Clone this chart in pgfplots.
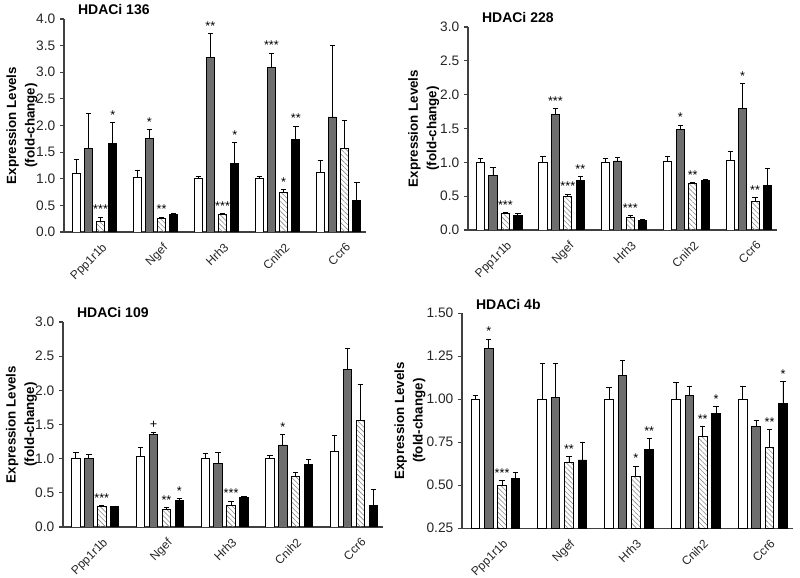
\documentclass[border=0pt]{standalone}
\usepackage{fontspec}
\setmainfont{Liberation Sans}
\usepackage{pgfplots}
\pgfplotsset{compat=1.18}
\usepackage{pgfplotstable}
\usetikzlibrary{patterns.meta}
\definecolor{gbar}{HTML}{6E6E6E}
\newcommand{\fs}{\fontsize{9.5pt}{13.5pt}\selectfont}
\newcommand{\fy}{\fontsize{10.3pt}{12pt}\selectfont}
\newcommand{\fx}{\fontsize{9pt}{11pt}\selectfont}
\newcommand{\ft}{\fontsize{10.5pt}{13pt}\selectfont}
\newcommand{\fl}{\fontsize{10pt}{13.9pt}\selectfont}

% columns: x, white, err, gray, err, hatched, err, black, err, labels
\pgfplotstableread{
x w ew g eg h eh b eb lg lh lb
0 1.09 0.27 1.56 0.67 0.20 0.08 1.66 0.39 {} *** *
1 1.03 0.13 1.75 0.17 0.26 0.02 0.32 0.02 * ** {}
2 1.00 0.05 3.28 0.44 0.325 0.015 1.28 0.40 ** *** *
3 1.00 0.05 3.09 0.27 0.74 0.06 1.74 0.25 *** * **
4 1.11 0.23 2.16 1.34 1.57 0.52 0.59 0.34 {} {} {}
}\tblA
\pgfplotstableread{
x w ew g eg h eh b eb lg lh lb
0 1.00 0.06 0.80 0.13 0.24 0.02 0.21 0.04 {} *** {}
1 1.00 0.08 1.71 0.08 0.49 0.04 0.735 0.06 *** *** **
2 1.00 0.06 1.02 0.05 0.19 0.02 0.14 0.01 {} *** {}
3 1.01 0.07 1.485 0.065 0.685 0.015 0.73 0.02 * ** {}
4 1.03 0.13 1.79 0.37 0.42 0.06 0.66 0.25 * ** {}
}\tblB
\pgfplotstableread{
x w ew g eg h eh b eb lg lh lb
0 1.01 0.08 1.00 0.06 0.30 0.01 0.30 0.005 {} *** {}
1 1.03 0.13 1.355 0.035 0.26 0.02 0.39 0.03 + ** *
2 1.00 0.08 0.93 0.16 0.31 0.07 0.43 0.01 {} *** {}
3 1.00 0.05 1.20 0.15 0.745 0.055 0.92 0.07 * {} {}
4 1.105 0.24 2.30 0.31 1.56 0.53 0.32 0.235 {} {} {}
}\tblC
\pgfplotstableread{
x w ew g eg h eh b eb lg lh lb
0 1.00 0.02 1.293 0.057 0.496 0.029 0.54 0.035 * *** {}
1 1.00 0.21 1.01 0.20 0.632 0.035 0.647 0.10 {} ** {}
2 1.00 0.068 1.14 0.085 0.55 0.062 0.707 0.066 {} * **
3 1.00 0.095 1.02 0.054 0.781 0.058 0.92 0.037 {} ** *
4 1.00 0.072 0.841 0.035 0.719 0.105 0.975 0.13 {} ** *
}\tblD

\pgfplotsset{
  panel/.style={
    scale only axis, ybar, bar width=0.13,
    enlargelimits=false,
    axis lines=left,
    axis line style={-, draw=black!75, line width=0.9pt},
    xmin=-0.5, xmax=4.45,
    xtick={0,1,2,3,4},
    xticklabels={Ppp1r1b,Ngef,Hrh3,Cnih2,Ccr6},
    xtick style={draw=none},
    ytick style={draw=black!75, line width=0.9pt},
    tick align=outside, major tick length=3pt,
    yticklabel style={font=\fy, text=black!85},
    xticklabel style={font=\fx, text=black!85, xshift=5pt, yshift=-3pt, rotate=45, anchor=north east, inner sep=1pt},
    /pgf/number format/assume math mode=true,
    yticklabel style={/pgf/number format/.cd, fixed, fixed zerofill, precision=1},
    ylabel={Expression Levels\\(fold-change)},
    every axis y label/.style={at={(axis description cs:#1,0.5)}, rotate=90, anchor=center, align=center, font=\fl\bfseries},
    every axis title/.style={at={(axis description cs:0,1)}, anchor=base west, xshift=7pt, yshift=3pt, font=\ft\bfseries},
  },
  err/.style={
    /pgfplots/error bars/y dir=plus,
    /pgfplots/error bars/y explicit,
    /pgfplots/error bars/error bar style={black, line width=0.7pt},
    /pgfplots/error bars/error mark options={black, line width=0.7pt, mark size=2pt, rotate=90},
  },
  sig/.style={
    visualization depends on={\thisrow{#1}\as\errv},
    point meta=explicit symbolic,
    nodes near coords,
    nodes near coords style={shift={(axis direction cs:0,\errv)}, anchor=south, inner sep=0pt, yshift=2pt, font=\fs, text=black},
  },
}

\newcommand{\fourbars}[1]{%
  \addplot[bar shift=-0.3, fill=white, draw=black, line width=0.7pt, err] table[x=x,y=w,y error=ew]{#1};
  \addplot[bar shift=-0.1, fill=gbar, draw=black, line width=0.7pt, err, sig=eg] table[x=x,y=g,y error=eg,meta=lg]{#1};
  \addplot[bar shift=0.1, pattern={Lines[angle=-45,distance=2.6pt,line width=0.45pt]}, pattern color=black!45, draw=black, line width=0.7pt, err, sig=eh] table[x=x,y=h,y error=eh,meta=lh]{#1};
  \addplot[bar shift=0.3, fill=black, draw=black, line width=0.7pt, err, sig=eb] table[x=x,y=b,y error=eb,meta=lb]{#1};
}

\begin{document}
\begin{tikzpicture}
\path[use as bounding box] (0,0) rectangle (600pt,433.5pt);

\begin{axis}[panel=-0.139, at={(48pt,259.5pt)}, anchor=south west,
  width=226.5pt, height=159.75pt,
  ymin=0, ymax=4, ytick={0,0.5,...,4},
  title={HDACi 136}]
\fourbars{\tblA}
\end{axis}

\begin{axis}[panel=-0.143, at={(351pt,261pt)}, anchor=south west,
  width=231.75pt, height=152.25pt,
  ymin=0, ymax=3, ytick={0,0.5,...,3},
  title={HDACi 228}]
\fourbars{\tblB}
\end{axis}

\begin{axis}[panel=-0.130, at={(47.25pt,38.25pt)}, anchor=south west,
  width=240pt, height=153.75pt,
  ymin=0, ymax=3, ytick={0,0.5,...,3},
  title={HDACi 109}]
\fourbars{\tblC}
\end{axis}

\begin{axis}[panel=-0.157, at={(346.5pt,37.3pt)}, anchor=south west,
  width=248.25pt, height=161.25pt,
  ymin=0.25, ymax=1.5, ytick={0.25,0.5,0.75,1,1.25,1.5},
  yticklabel style={/pgf/number format/.cd, fixed, fixed zerofill, precision=2},
  title={HDACi 4b}]
\fourbars{\tblD}
\end{axis}
\end{tikzpicture}
\end{document}
